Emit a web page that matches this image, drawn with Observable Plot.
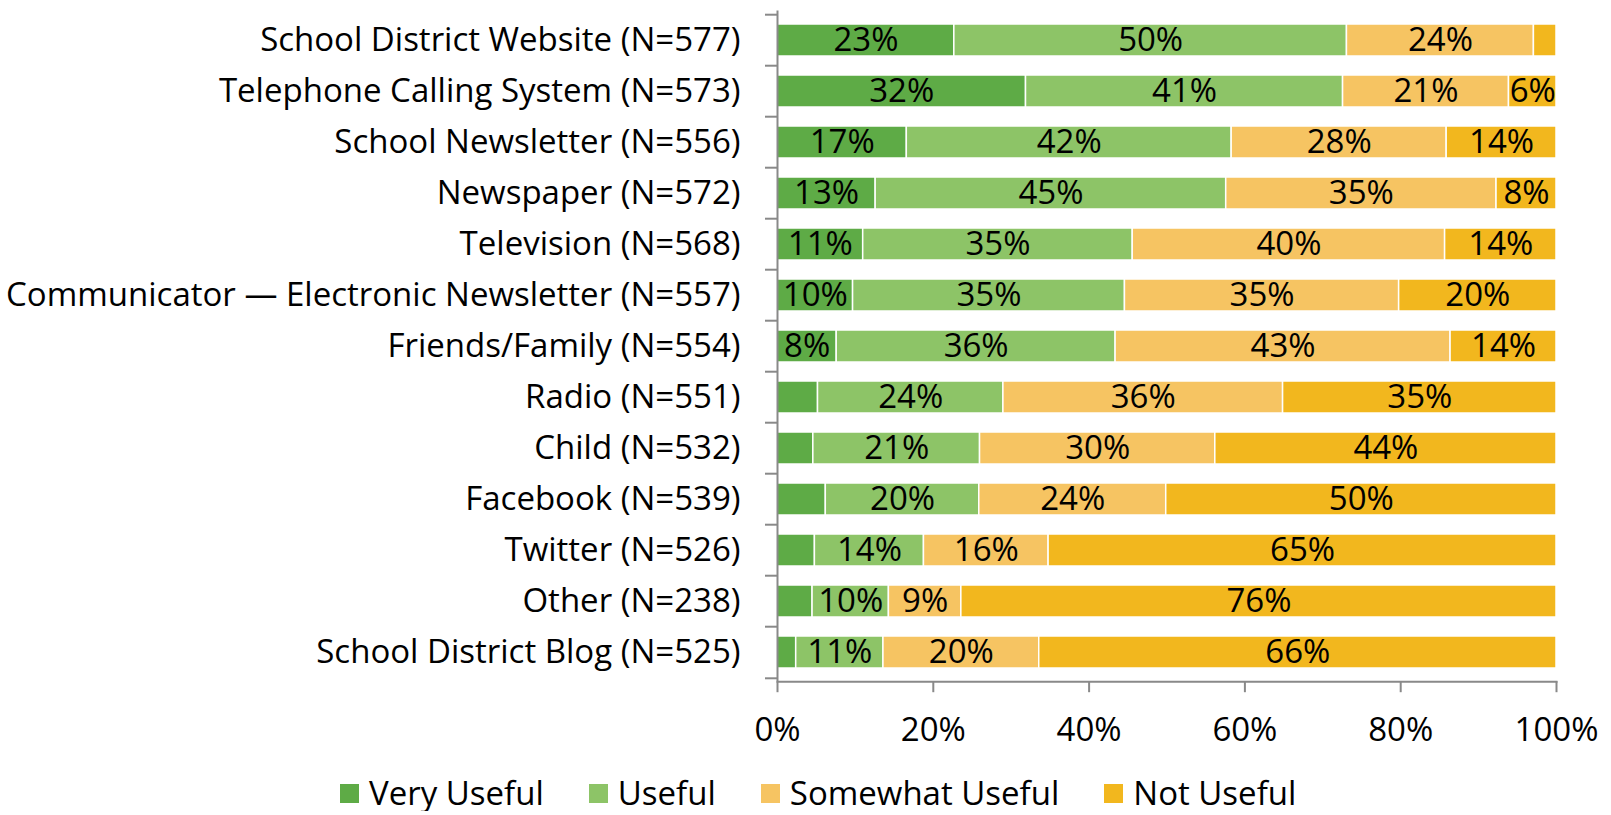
<!DOCTYPE html>
<html>
<head>
<meta charset="utf-8">
<script src="https://cdn.jsdelivr.net/npm/d3@7"></script>
<script src="https://cdn.jsdelivr.net/npm/@observablehq/plot@0.6"></script>
<style>
  html, body { margin: 0; padding: 0; background: #fff; overflow: hidden; }
  body { font-family: "Open Sans", sans-serif; color: #000; }
  #chart svg { display: block; }
  #legend { display: flex; align-items: center; margin-left: 340px; margin-top: 15px; height: 36px; font-size: 33px; line-height: 36px; }
  .item { display: flex; align-items: center; margin-right: 45px; }
  .sw { width: 19px; height: 19px; margin-right: 10px; }
</style>
</head>
<body>
<div id="chart"></div>
<div id="legend"></div>
<script>
const sources = [
  "School District Website (N=577)",
  "Telephone Calling System (N=573)",
  "School Newsletter (N=556)",
  "Newspaper (N=572)",
  "Television (N=568)",
  "Communicator — Electronic Newsletter (N=557)",
  "Friends/Family (N=554)",
  "Radio (N=551)",
  "Child (N=532)",
  "Facebook (N=539)",
  "Twitter (N=526)",
  "Other (N=238)",
  "School District Blog (N=525)"
];
const seriesNames = ["Very Useful", "Useful", "Somewhat Useful", "Not Useful"];
const veryUseful     = [22.7, 31.9, 16.6, 12.6, 11.0,  9.7,  7.6,  5.2,  4.6,  6.2,  4.8,  4.5,  2.4];
const useful         = [50.4, 40.7, 41.7, 45.0, 34.6, 34.9, 35.8, 23.8, 21.4, 19.7, 14.0,  9.8, 11.2];
const somewhatUseful = [24.0, 21.3, 27.6, 34.7, 40.1, 35.2, 43.0, 35.9, 30.2, 24.0, 16.0,  9.3, 20.0];
const notUseful      = [ 2.9,  6.1, 14.1,  7.7, 14.3, 20.2, 13.6, 35.1, 43.8, 50.1, 65.2, 76.4, 66.4];
// segments whose value label is not shown in the original
const hiddenLabels = [
  ["School District Website (N=577)", "Not Useful"],
  ["Radio (N=551)", "Very Useful"],
  ["Child (N=532)", "Very Useful"],
  ["Facebook (N=539)", "Very Useful"],
  ["Twitter (N=526)", "Very Useful"],
  ["Other (N=238)", "Very Useful"],
  ["School District Blog (N=525)", "Very Useful"]
];
const colors = ["#5EAB46", "#8DC467", "#F6C462", "#F2B71E"];
const xTicks = [0, 20, 40, 60, 80, 100];

const seriesValues = [veryUseful, useful, somewhatUseful, notUseful];
const hiddenSet = new Set(hiddenLabels.map(([s, k]) => s + "|" + k));
const data = [];
sources.forEach((source, i) => {
  seriesNames.forEach((series, j) => {
    data.push({source, series, value: seriesValues[j][i]});
  });
});

const W = 1611, H = 760;
const marginTop = 10.4, marginBottom = 78.8;
const step = (H - marginTop - marginBottom) / sources.length;
const FS = 33;
const axisGray = "#898989";

const chart = Plot.plot({
  width: W,
  height: H,
  marginLeft: 777,
  marginRight: 55,
  marginTop,
  marginBottom,
  style: {fontFamily: "Open Sans, sans-serif", fontSize: FS + "px", color: "#000", background: "#fff"},
  x: {domain: [0, 100]},
  y: {domain: sources, paddingInner: 0.366, paddingOuter: 0.183},
  color: {domain: seriesNames, range: colors},
  marks: [
    Plot.barX(data, Plot.stackX({
      x: "value", y: "source", fill: "series", stroke: "white", strokeWidth: 1.5
    })),
    Plot.text(data, Plot.stackX({
      x: "value", y: "source", z: "series",
      text: d => hiddenSet.has(d.source + "|" + d.series) ? "" : Math.round(d.value) + "%",
      fontSize: FS, fill: "#000"
    })),
    Plot.ruleX([0], {stroke: axisGray, strokeWidth: 2}),
    Plot.frame({anchor: "bottom", stroke: axisGray, strokeWidth: 2}),
    // category boundary ticks (Excel style, between categories)
    Plot.axisY({ticks: sources, tickSize: 12, fill: "none", stroke: axisGray, strokeWidth: 2, dy: -step / 2, label: null}),
    Plot.axisY({ticks: sources.slice(-1), tickSize: 12, fill: "none", stroke: axisGray, strokeWidth: 2, dy: step / 2, label: null}),
    // category labels
    Plot.axisY({tickSize: 0, tickPadding: 37, fontSize: FS, fill: "#000", label: null}),
    // x axis
    Plot.axisX({ticks: xTicks, tickSize: 11, tickPadding: 25, tickFormat: d => d + "%",
      stroke: axisGray, strokeWidth: 2, fontSize: FS, fill: "#000", label: null})
  ]
});
document.getElementById("chart").append(chart);

const legend = document.getElementById("legend");
seriesNames.forEach((name, j) => {
  const item = document.createElement("div");
  item.className = "item";
  const sw = document.createElement("div");
  sw.className = "sw";
  sw.style.background = colors[j];
  const label = document.createElement("span");
  label.textContent = name;
  item.append(sw, label);
  legend.append(item);
});
</script>
</body>
</html>
